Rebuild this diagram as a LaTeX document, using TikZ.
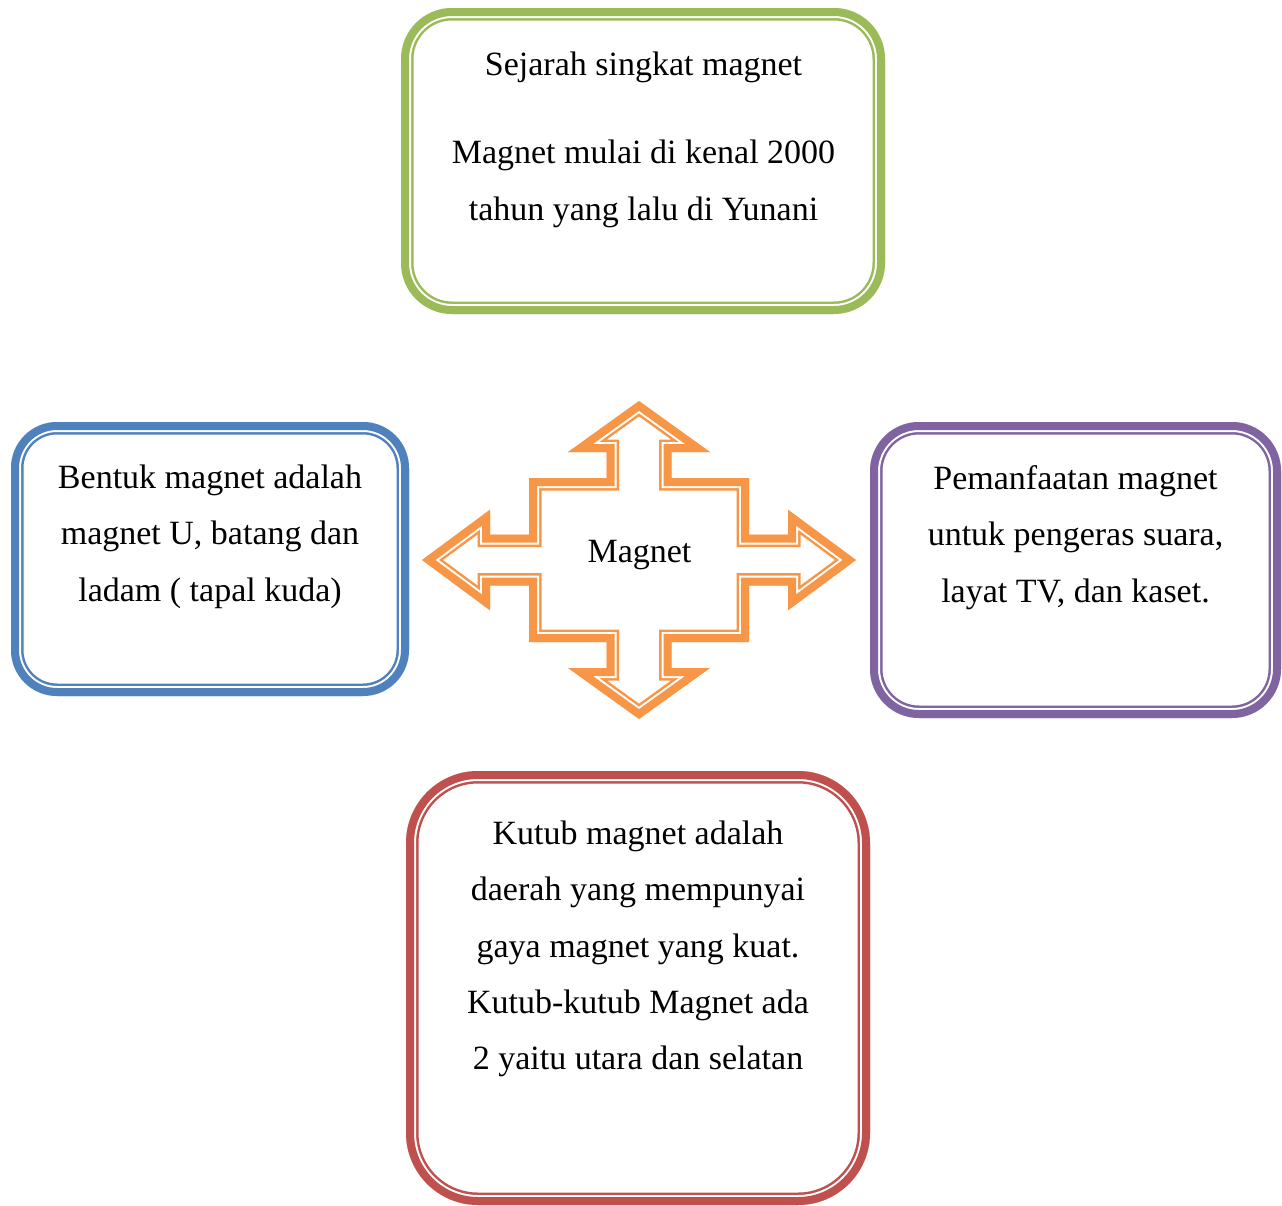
\documentclass[tikz,border=0pt]{standalone}
\usepackage{fontspec}
\setmainfont{Liberation Serif}
\definecolor{cgreen}{RGB}{155,187,89}
\definecolor{cblue}{RGB}{79,129,189}
\definecolor{cpurple}{RGB}{128,100,162}
\definecolor{cred}{RGB}{192,80,77}
\definecolor{corange}{RGB}{247,150,70}
\newcommand\crossshape[1]{\path[#1] (0,-159) -- (71,-108) -- (32.5,-108) -- (32.5,-82) -- (110,-82) -- (110,-25.5) -- (149,-25.5) -- (149,-50.3) -- (217,0) -- (149,50.3) -- (149,25.5) -- (110,25.5) -- (110,82) -- (32.5,82) -- (32.5,108) -- (71,108) -- (0,159) -- (-71,108) -- (-32.5,108) -- (-32.5,82) -- (-110,82) -- (-110,25.5) -- (-149,25.5) -- (-149,50.3) -- (-217,0) -- (-149,-50.3) -- (-149,-25.5) -- (-110,-25.5) -- (-110,-82) -- (-32.5,-82) -- (-32.5,-108) -- (-71,-108) -- cycle;}
\begin{document}
\begin{tikzpicture}[x=1pt,y=-1pt,
  dbox/.style 2 args={draw=none, inner sep=0pt, outer sep=0pt, rounded corners=#2pt,
    path picture={
      \draw[#1, line width=25pt, rounded corners=#2pt] (path picture bounding box.north west) rectangle (path picture bounding box.south east);
      \draw[white, line width=20pt, rounded corners=#2pt] (path picture bounding box.north west) rectangle (path picture bounding box.south east);
      \draw[#1, line width=16pt, rounded corners=#2pt] (path picture bounding box.north west) rectangle (path picture bounding box.south east);
    }},
  txt/.style={anchor=base, inner sep=0pt, font=\fontsize{34}{40}\selectfont}
]
\useasboundingbox (0,0) rectangle (1282,1205);

% boxes
\node[dbox={cgreen}{51}, minimum width=484pt, minimum height=306pt] (green) at (643,161) {};
\node[dbox={cblue}{46}, minimum width=398pt, minimum height=274pt] (blue) at (210,559) {};
\node[dbox={cpurple}{49}, minimum width=411pt, minimum height=296pt] (purple) at (1075.5,570) {};
\node[dbox={cred}{72}, minimum width=464pt, minimum height=434pt] (red) at (638,988) {};

% central cross arrow
\begin{scope}[shift={(639,560)}]
  \begin{scope}
    \crossshape{clip}
    \crossshape{draw=corange, line width=25pt}
    \crossshape{draw=white, line width=20pt}
    \crossshape{draw=corange, line width=16pt}
  \end{scope}
\end{scope}
\node[txt] (mag) at (639.5,562) {Magnet};

% texts
\node[txt] (g1) at (643.5,75.5) {Sejarah singkat magnet};
\node[txt] (g2) at (643.5,163.5) {Magnet mulai di kenal 2000};
\node[txt] (g3) at (643.5,220.5) {tahun yang lalu di Yunani};

\node[txt] (b1) at (210,488) {Bentuk magnet adalah};
\node[txt] (b2) at (210,544) {magnet U, batang dan};
\node[txt] (b3) at (210,601) {ladam ( tapal kuda)};

\node[txt] (p1) at (1075.5,489) {Pemanfaatan magnet};
\node[txt] (p2) at (1075.5,545) {untuk pengeras suara,};
\node[txt] (p3) at (1075.5,602) {layat TV, dan kaset.};

\node[txt] (r1) at (638,844) {Kutub magnet adalah};
\node[txt] (r2) at (638,900) {daerah yang mempunyai};
\node[txt] (r3) at (638,957) {gaya magnet yang kuat.};
\node[txt] (r4) at (638,1013) {Kutub-kutub Magnet ada};
\node[txt] (r5) at (638,1069) {2 yaitu utara dan selatan};
\end{tikzpicture}
\end{document}
